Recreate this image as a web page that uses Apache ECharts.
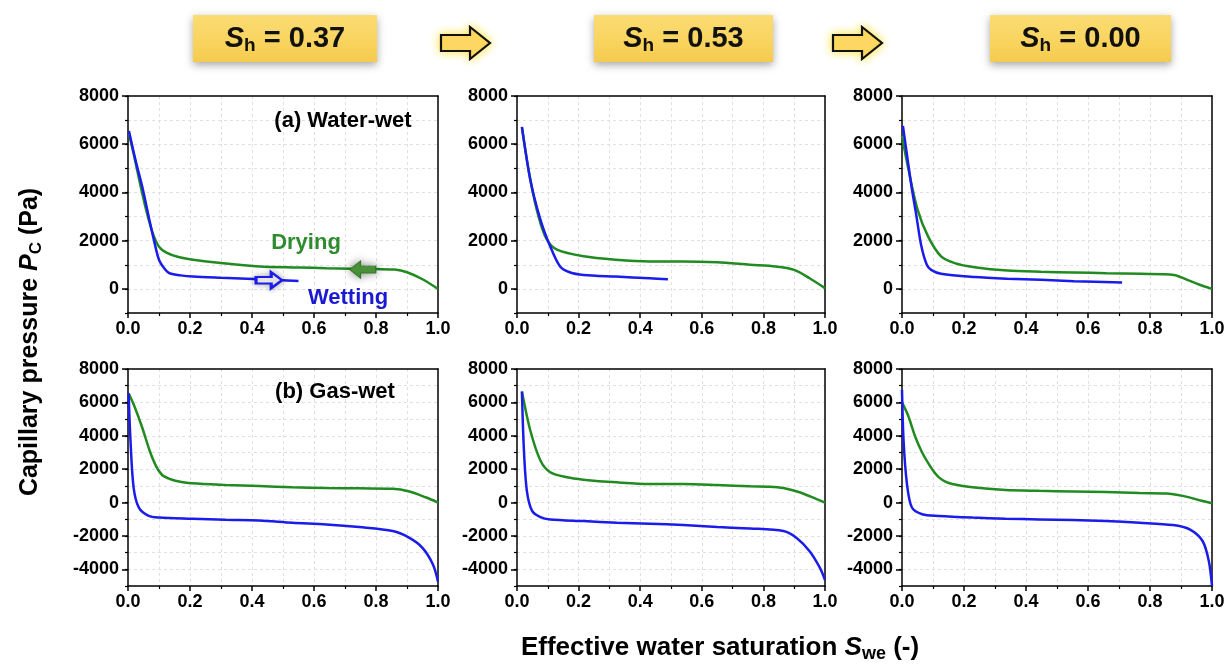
<!DOCTYPE html>
<html lang="en">
<head>
<meta charset="UTF-8" />
<title>Capillary pressure</title>
<style>
  * { margin: 0; padding: 0; }
  #main { width: 1231px; height: 665px; background: #fff; }
</style>
</head>
<body>
<div id="main"></div>
<script src="https://cdn.jsdelivr.net/npm/echarts@6/dist/echarts.min.js"></script>
<script>
// header labels
const shLabels = ["0.37", "0.53", "0.00"];
const yTicksTop = [0, 2000, 4000, 6000, 8000];
const yTicksBottom = [-4000, -2000, 0, 2000, 4000, 6000, 8000];

// (a) water-wet, drying (green) / wetting (blue)
const dryWW37 = [[0.003,6450],[0.02,5500],[0.04,4300],[0.06,3200],[0.08,2300],[0.1,1750],[0.124,1500],[0.16,1330],[0.21,1210],[0.3,1070],[0.425,930],[0.55,890],[0.64,860],[0.72,840],[0.8,820],[0.86,800],[0.9,690],[0.95,400],[1.0,0]];
const wetWW37 = [[0.003,6550],[0.025,5300],[0.048,4125],[0.07,2800],[0.084,2000],[0.1,1210],[0.12,800],[0.134,650],[0.17,560],[0.21,510],[0.3,460],[0.425,400],[0.55,330]];
const dryWW53 = [[0.016,6700],[0.043,4550],[0.07,3000],[0.097,2040],[0.13,1625],[0.216,1350],[0.32,1210],[0.43,1140],[0.54,1140],[0.65,1100],[0.757,1000],[0.84,930],[0.9,790],[0.95,440],[1.0,30]];
const wetWW53 = [[0.016,6720],[0.043,4540],[0.076,2875],[0.108,1760],[0.14,930],[0.173,680],[0.216,580],[0.32,510],[0.43,440],[0.49,400]];
const dryWW00 = [[0.0,6350],[0.02,5000],[0.05,3300],[0.084,2180],[0.126,1350],[0.17,1070],[0.234,900],[0.34,760],[0.448,710],[0.555,680],[0.66,650],[0.77,625],[0.877,580],[0.92,375],[0.96,170],[1.0,0]];
const wetWW00 = [[0.003,6760],[0.03,4300],[0.045,3150],[0.062,1800],[0.08,1000],[0.094,790],[0.126,625],[0.234,490],[0.34,420],[0.448,375],[0.555,320],[0.71,265]];

// (b) gas-wet
const dryGW37 = [[0.002,6550],[0.02,5800],[0.045,4540],[0.07,3100],[0.09,2200],[0.11,1650],[0.13,1450],[0.153,1310],[0.207,1150],[0.315,1050],[0.423,990],[0.53,910],[0.64,870],[0.746,850],[0.854,830],[0.908,665],[0.962,300],[1.0,0]];
const wetGW37 = [[0.002,6550],[0.008,3730],[0.018,910],[0.035,-300],[0.067,-800],[0.1,-900],[0.207,-970],[0.315,-1030],[0.423,-1070],[0.53,-1210],[0.64,-1310],[0.746,-1470],[0.854,-1710],[0.908,-2120],[0.95,-2720],[0.984,-3730],[1.0,-4740]];
const dryGW53 = [[0.016,6650],[0.043,4330],[0.076,2520],[0.108,1815],[0.162,1510],[0.216,1370],[0.324,1210],[0.432,1110],[0.54,1110],[0.65,1050],[0.757,970],[0.82,950],[0.865,870],[0.92,600],[0.973,200],[1.0,0]];
const wetGW53 = [[0.016,6650],[0.022,3330],[0.032,700],[0.049,-500],[0.076,-870],[0.108,-1010],[0.216,-1110],[0.324,-1210],[0.432,-1270],[0.54,-1350],[0.65,-1470],[0.757,-1550],[0.865,-1710],[0.908,-2120],[0.95,-2920],[0.984,-3930],[1.0,-4640]];
const dryGW00 = [[0.0,6000],[0.02,5200],[0.043,3930],[0.065,3000],[0.086,2320],[0.105,1800],[0.119,1510],[0.14,1250],[0.162,1110],[0.227,910],[0.334,750],[0.442,700],[0.55,665],[0.658,625],[0.766,565],[0.852,545],[0.906,400],[0.96,140],[1.0,-40]];
const wetGW00 = [[0.0,6750],[0.005,3730],[0.016,1110],[0.032,-300],[0.065,-700],[0.119,-800],[0.227,-900],[0.334,-970],[0.442,-1010],[0.55,-1050],[0.658,-1110],[0.766,-1210],[0.874,-1350],[0.928,-1610],[0.97,-2320],[0.99,-3530],[1.0,-5000]];

const panels = [
  { dry: dryWW37, wet: wetWW37, row: 0, col: 0 },
  { dry: dryWW53, wet: wetWW53, row: 0, col: 1 },
  { dry: dryWW00, wet: wetWW00, row: 0, col: 2 },
  { dry: dryGW37, wet: wetGW37, row: 1, col: 0 },
  { dry: dryGW53, wet: wetGW53, row: 1, col: 1 },
  { dry: dryGW00, wet: wetGW00, row: 1, col: 2 }
];

const FONT = "'Liberation Sans', Arial, sans-serif";
const GREEN = "#218a21";
const BLUE = "#1b1bea";
const colLeft = [128, 517, 902];
const colWidth = [310, 308, 310];
const rowTop = [96, 369];
const rowHeight = 217;
const rowMin = [-1000, -5000];

var myChart = echarts.init(document.getElementById("main"));

let grid = [], xAxis = [], yAxis = [], series = [];
const gridDash = { color: "#e0e0e0", type: [3, 3], width: 1 };
const black = { color: "#000", width: 1.5 };

panels.forEach((p, i) => {
  grid.push({
    left: colLeft[p.col], top: rowTop[p.row],
    width: colWidth[p.col], height: rowHeight,
    show: true, backgroundColor: "#fff", borderWidth: 0
  });
  // bottom x axis
  xAxis.push({
    type: "value", gridIndex: i, min: 0, max: 1, interval: 0.2, position: "bottom",
    axisLine: { show: true, onZero: false, lineStyle: black },
    axisTick: { show: true, length: 5, lineStyle: black },
    minorTick: { show: true, splitNumber: 2, length: 3, lineStyle: { color: "#000", width: 1.2 } },
    splitLine: { show: true, showMinLine: false, showMaxLine: false, lineStyle: gridDash },
    minorSplitLine: { show: true, lineStyle: gridDash },
    axisLabel: {
      color: "#000", fontWeight: "bold", fontSize: 18, fontFamily: FONT, margin: 7,
      formatter: (v) => v.toFixed(1)
    }
  });
  // top frame line
  xAxis.push({
    type: "value", gridIndex: i, min: 0, max: 1, position: "top",
    axisLine: { show: true, onZero: false, lineStyle: black },
    axisTick: { show: false }, axisLabel: { show: false }, splitLine: { show: false }
  });
  const yTicks = p.row === 0 ? yTicksTop : yTicksBottom;
  // main axis: grid and minor ticks every 1000
  yAxis.push({
    type: "value", gridIndex: i, min: rowMin[p.row], max: 8000, interval: 1000, position: "left",
    axisLine: { show: true, onZero: false, lineStyle: black },
    axisTick: { show: true, length: 3, lineStyle: { color: "#000", width: 1.2 } },
    splitLine: { show: true, showMinLine: false, showMaxLine: false, lineStyle: gridDash },
    axisLabel: { show: false }
  });
  // overlay axis: labelled major ticks
  yAxis.push({
    type: "value", gridIndex: i, min: rowMin[p.row], max: 8000, interval: 1000, position: "left",
    axisLine: { show: false }, splitLine: { show: false },
    axisTick: { show: true, length: 6, customValues: yTicks, lineStyle: black },
    axisLabel: {
      show: true, customValues: yTicks, color: "#000", fontWeight: "bold",
      fontSize: 18, fontFamily: FONT, margin: 9, formatter: (v) => String(v)
    }
  });
  // right frame line
  yAxis.push({
    type: "value", gridIndex: i, min: rowMin[p.row], max: 8000, position: "right",
    axisLine: { show: true, onZero: false, lineStyle: black },
    axisTick: { show: false }, axisLabel: { show: false }, splitLine: { show: false }
  });
  const common = {
    type: "line", xAxisIndex: 2 * i, yAxisIndex: 3 * i, showSymbol: false,
    smooth: 0.3, silent: true
  };
  const dry = Object.assign({}, common, {
    name: "Drying", data: p.dry, lineStyle: { color: GREEN, width: 2.5 }, itemStyle: { color: GREEN }
  });
  const wet = Object.assign({}, common, {
    name: "Wetting", data: p.wet, lineStyle: { color: BLUE, width: 2.5 }, itemStyle: { color: BLUE }
  });
  if (i === 0) {
    dry.markPoint = {
      silent: true,
      symbol: "path://M0,6 L14,6 L14,0 L24,10 L14,20 L14,14 L0,14 Z",
      symbolSize: [26, 17], symbolRotate: 180,
      itemStyle: { color: "#4f9a3c", borderColor: "#2f7a24", borderWidth: 1, shadowBlur: 8, shadowColor: "rgba(0,0,0,0.45)" },
      label: { show: false },
      data: [{ coord: [0.757, 800] }]
    };
    wet.markPoint = {
      silent: true,
      symbol: "path://M0,6 L14,6 L14,0 L24,10 L14,20 L14,14 L0,14 Z",
      symbolSize: [26, 16],
      itemStyle: { color: "#fff", borderColor: BLUE, borderWidth: 2.5, shadowBlur: 6, shadowColor: "rgba(0,0,0,0.3)" },
      label: { show: false },
      data: [{ coord: [0.455, 360] }]
    };
  }
  series.push(dry, wet);
});

// header boxes and arrows
const boxes = [[193, 377], [594, 773], [990, 1171]];
let graphic = [];
boxes.forEach((b, k) => {
  graphic.push({
    type: "rect", silent: true,
    shape: { x: b[0], y: 15, width: b[1] - b[0], height: 47 },
    style: {
      fill: new echarts.graphic.LinearGradient(0, 0, 0, 1, [
        { offset: 0, color: "#fbdc72" }, { offset: 0.5, color: "#f9d561" }, { offset: 1, color: "#f5cb4e" }
      ]),
      shadowBlur: 8, shadowOffsetY: 3, shadowColor: "rgba(0,0,0,0.35)"
    }
  });
  graphic.push({
    type: "text", silent: true, x: (b[0] + b[1]) / 2, y: 39,
    style: {
      text: "{i|S}{sub|h}{t| = " + shLabels[k] + "}",
      align: "center", verticalAlign: "middle",
      rich: {
        i: { fontSize: 29, fontWeight: "bold", fontStyle: "italic", fontFamily: FONT, fill: "#111", lineHeight: 32 },
        sub: { fontSize: 19, fontWeight: "bold", fontFamily: FONT, fill: "#111", lineHeight: 18, verticalAlign: "bottom" },
        t: { fontSize: 29, fontWeight: "bold", fontFamily: FONT, fill: "#111", lineHeight: 32 }
      }
    }
  });
});
[441, 833].forEach((x0) => {
  graphic.push({
    type: "polygon", silent: true,
    shape: { points: [[x0, 35], [x0 + 29, 35], [x0 + 29, 27], [x0 + 49, 43], [x0 + 29, 59], [x0 + 29, 51], [x0, 51]] },
    style: { fill: "#fdd66a", stroke: "#111", lineWidth: 2.2, shadowBlur: 10, shadowColor: "rgba(255,225,40,0.9)" }
  });
});

// panel annotations
function label(text, x, y, color) {
  return {
    type: "text", silent: true, x: x, y: y, z: 100,
    style: { text: text, align: "center", verticalAlign: "middle", fill: color,
      font: "bold 22px " + FONT }
  };
}
graphic.push(label("(a) Water-wet", 343, 121, "#000"));
graphic.push(label("(b) Gas-wet", 335, 392, "#000"));
graphic.push(label("Drying", 306, 243, "#2e8b2e"));
graphic.push(label("Wetting", 348, 298, "#1a1ad2"));

// axis titles
graphic.push({
  type: "text", silent: true, x: 30, y: 342, rotation: Math.PI / 2,
  style: {
    text: "{t|Capillary pressure }{i|P}{sub|C}{t| (Pa)}",
    align: "center", verticalAlign: "middle",
    rich: {
      t: { fontSize: 25, fontWeight: "bold", fontFamily: FONT, fill: "#000", lineHeight: 30 },
      i: { fontSize: 25, fontWeight: "bold", fontStyle: "italic", fontFamily: FONT, fill: "#000", lineHeight: 30 },
      sub: { fontSize: 17, fontWeight: "bold", fontFamily: FONT, fill: "#000", lineHeight: 17, verticalAlign: "bottom" }
    }
  }
});
graphic.push({
  type: "text", silent: true, x: 720, y: 648,
  style: {
    text: "{t|Effective water saturation }{i|S}{sub|we}{t| (-)}",
    align: "center", verticalAlign: "middle",
    rich: {
      t: { fontSize: 26, fontWeight: "bold", fontFamily: FONT, fill: "#000", lineHeight: 30 },
      i: { fontSize: 26, fontWeight: "bold", fontStyle: "italic", fontFamily: FONT, fill: "#000", lineHeight: 30 },
      sub: { fontSize: 18, fontWeight: "bold", fontFamily: FONT, fill: "#000", lineHeight: 18, verticalAlign: "bottom" }
    }
  }
});

let option = {
  backgroundColor: "#fff",
  animation: false,
  grid: grid,
  xAxis: xAxis,
  yAxis: yAxis,
  series: series,
  graphic: graphic
};

myChart.setOption(option);
</script>
</body>
</html>
